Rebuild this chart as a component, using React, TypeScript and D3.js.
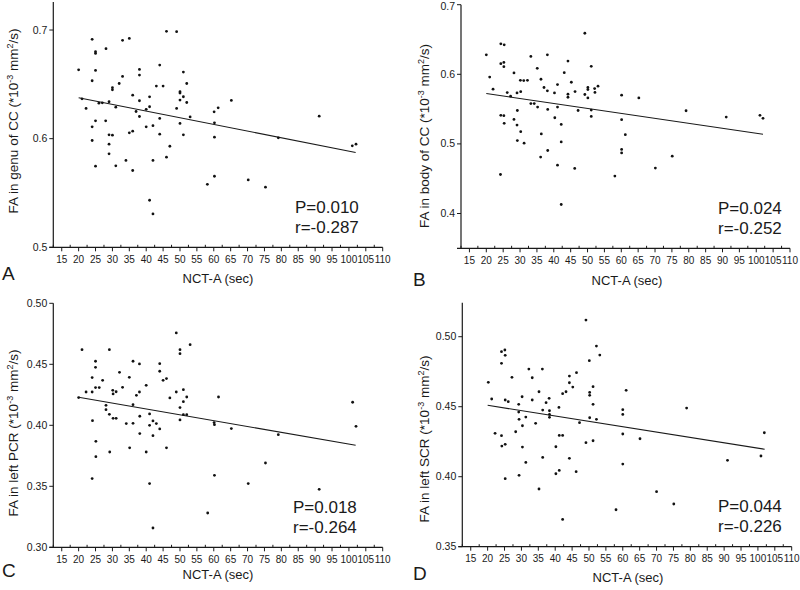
import React from "react";
import * as d3 from "d3";

// ---------- DATA ----------
const xTickValues = [15, 20, 25, 30, 35, 40, 45, 50, 55, 60, 65, 70, 75, 80, 85, 90, 95, 100, 105, 110];
const xDomain: [number, number] = [12.5, 110];
const xTitle = "NCT-A (sec)";

const pointsA: [number, number][] = [
  [20, 0.6634], [21, 0.6367], [22.2, 0.6278], [24, 0.6914], [24, 0.6533], [24, 0.6109], [24, 0.5983],
  [25, 0.680], [25, 0.6785], [25, 0.6628], [25, 0.6164], [25, 0.5747], [26, 0.6327], [27, 0.633],
  [28.1, 0.6828], [28, 0.6164], [29, 0.634], [29, 0.6035], [29, 0.5949], [29, 0.586], [30, 0.6469],
  [30, 0.645], [30, 0.6032], [31, 0.629], [31, 0.575], [32, 0.6508], [33, 0.6905], [33, 0.6573],
  [34, 0.580], [35, 0.6923], [35, 0.6054], [36, 0.640], [36, 0.6069], [36, 0.5707], [37, 0.625],
  [38, 0.6637], [38, 0.6585], [38, 0.6349], [38, 0.6204], [40, 0.6109], [40, 0.627], [41, 0.6385],
  [41, 0.6294], [41, 0.5433], [42, 0.612], [42, 0.580], [42, 0.5307], [43, 0.6484], [44, 0.6677],
  [44, 0.6186], [44, 0.6041], [45, 0.6484], [46, 0.6988], [46, 0.583], [47, 0.593], [49, 0.6985],
  [49, 0.6278], [50, 0.6432], [50, 0.642], [50, 0.6355], [50, 0.614], [51, 0.6613], [51, 0.6386],
  [51, 0.6035], [52, 0.6508], [52, 0.6333], [53, 0.620], [58.1, 0.558], [60.1, 0.6247], [61.3, 0.6284],
  [60.2, 0.6146], [60.2, 0.6014], [60.2, 0.5654], [65.2, 0.6352], [70.2, 0.562], [75.3, 0.5553],
  [79.1, 0.6008], [91.2, 0.6207], [101, 0.5934], [102.1, 0.5949],
];

const pointsB: [number, number][] = [
  [20, 0.628], [21, 0.596], [22, 0.5786], [24.3, 0.6438], [25.3, 0.6424], [24.3, 0.6152], [25.2, 0.617],
  [25.2, 0.611], [24.3, 0.541], [25.2, 0.5405], [25.3, 0.5295], [24.2, 0.456], [26.2, 0.5738],
  [27.2, 0.5686], [28.2, 0.602], [28.2, 0.5352], [29.1, 0.5733], [29.2, 0.548], [29.1, 0.527],
  [29.2, 0.5048], [30.1, 0.5914], [30.2, 0.575], [30.2, 0.5176], [31.1, 0.591], [31.2, 0.501],
  [32.2, 0.5914], [33.2, 0.6257], [33.2, 0.558], [34.2, 0.558], [35.2, 0.5529], [35.1, 0.6086],
  [36.2, 0.5929], [36.3, 0.5143], [36.1, 0.481], [37.1, 0.581], [38.1, 0.5762], [38.1, 0.628],
  [38.2, 0.5495], [38.2, 0.4905], [40.2, 0.5733], [40.3, 0.5376], [41.1, 0.5852], [41.1, 0.5529],
  [41.1, 0.4695], [42.2, 0.528], [42.2, 0.5029], [42.2, 0.4129], [43.1, 0.6024], [44.2, 0.619],
  [44.2, 0.5714], [44.2, 0.567], [45.2, 0.5886], [46.3, 0.5752], [46.2, 0.4648], [47.2, 0.548],
  [49.2, 0.659], [49.2, 0.571], [50.1, 0.581], [50.1, 0.578], [50.1, 0.566], [51.1, 0.6114],
  [51.1, 0.5486], [51.1, 0.5395], [52.1, 0.5795], [52.2, 0.574], [53.1, 0.583], [60.1, 0.570],
  [65.2, 0.566], [60.1, 0.5348], [61.2, 0.5133], [60.1, 0.492], [60.1, 0.4871], [58.1, 0.4538],
  [70.1, 0.4652], [75.1, 0.4824], [79.2, 0.5476], [91.1, 0.5386], [101.1, 0.541], [102, 0.5367],
];

const pointsC: [number, number][] = [
  [20, 0.4227], [21, 0.462], [22.2, 0.4273], [24, 0.4391], [24, 0.4273], [24.1, 0.4038], [24, 0.3563],
  [25, 0.4525], [25, 0.4475], [25, 0.4309], [25.1, 0.3869], [25.1, 0.3743], [26.1, 0.4309],
  [27.1, 0.4369], [28.1, 0.4164], [28.1, 0.4128], [29.1, 0.462], [29.1, 0.409], [29.2, 0.3781],
  [30.1, 0.4287], [30.2, 0.4257], [30.2, 0.4057], [31.1, 0.4275], [31.1, 0.4057], [32.1, 0.4434],
  [33, 0.4311], [34.1, 0.4014], [35, 0.4393], [35.1, 0.3815], [36.1, 0.4525], [36.1, 0.4169],
  [36.1, 0.4016], [37.1, 0.4246], [38, 0.4503], [38, 0.4273], [38.1, 0.4074], [38.1, 0.3932],
  [40, 0.4328], [40, 0.3781], [41, 0.4093], [41, 0.40], [41, 0.3522], [42, 0.4036], [42, 0.3915],
  [42, 0.3158], [43, 0.4014], [44, 0.4505], [44, 0.4443], [44, 0.397], [45, 0.4369], [46, 0.4383],
  [46, 0.3815], [47, 0.4224], [48.9, 0.4757], [48.9, 0.4273], [50, 0.462], [50, 0.4587], [50, 0.4145],
  [50, 0.4044], [51, 0.4292], [51, 0.4194], [51, 0.4087], [52, 0.4232], [52, 0.4087], [53, 0.4661],
  [61.4, 0.4232], [60.1, 0.4022], [60.2, 0.4005], [60.2, 0.359], [58.2, 0.3281], [65.2, 0.3973],
  [70.2, 0.3522], [75.3, 0.3691], [79.1, 0.3923], [91.2, 0.3475], [101.1, 0.4189], [102.1, 0.3992],
];

const pointsD: [number, number][] = [
  [20.2, 0.4674], [21.2, 0.4555], [22.2, 0.431], [24.1, 0.4893], [25.1, 0.4905], [25.2, 0.4867],
  [24.1, 0.481], [24.1, 0.4293], [24.2, 0.4219], [25.2, 0.4548], [25.2, 0.4231], [25.2, 0.3986],
  [26.1, 0.4536], [27.2, 0.471], [28.3, 0.4321], [29.2, 0.4517], [29.2, 0.4462], [29.3, 0.441],
  [29.3, 0.401], [30.2, 0.4571], [30.3, 0.4364], [30.3, 0.4212], [31.3, 0.4426], [31.3, 0.4102],
  [32.2, 0.4769], [33.2, 0.4707], [33.2, 0.4548], [34.2, 0.4381], [35.2, 0.4607], [35.2, 0.3912],
  [36.2, 0.4769], [36.3, 0.4476], [36.3, 0.4138], [37.3, 0.4529], [38.2, 0.456], [38.3, 0.4471],
  [38.3, 0.4445], [38.3, 0.4424], [40.2, 0.4214], [40.2, 0.4021], [41.1, 0.4495], [41.2, 0.4295],
  [41.2, 0.4045], [42.2, 0.4593], [42.2, 0.4295], [42.2, 0.3695], [43.2, 0.4607], [44.2, 0.4719],
  [44.2, 0.4671], [44.2, 0.4131], [45.2, 0.464], [46.3, 0.4743], [46.2, 0.4036], [47.2, 0.4386],
  [49.1, 0.5119], [49.1, 0.4243], [50.1, 0.4829], [50.2, 0.4602], [50.2, 0.4581], [50.2, 0.4421],
  [51.2, 0.4643], [51.2, 0.4517], [51.2, 0.4257], [52.2, 0.4933], [52.2, 0.441], [53.2, 0.4869],
  [61, 0.4617], [60, 0.4479], [60, 0.4445], [60, 0.4305], [60, 0.409], [65.1, 0.4271], [58, 0.3764],
  [70, 0.3893], [75.1, 0.3805], [78.9, 0.449], [91, 0.4117], [100.9, 0.4148], [101.9, 0.4314],
];

// regression line end points [x, y]
const fitA: [number, number][] = [[20, 0.6376], [102, 0.5873]];
const fitB: [number, number][] = [[20, 0.5724], [102, 0.5139]];
const fitC: [number, number][] = [[20, 0.4230], [102, 0.3836]];
const fitD: [number, number][] = [[20, 0.4510], [102, 0.4196]];

const yTicksA = [0.5, 0.6, 0.7];
const yTicksB = [0.4, 0.5, 0.6, 0.7];
const yTicksC = [0.30, 0.35, 0.40, 0.45, 0.50];
const yTicksD = [0.35, 0.40, 0.45, 0.50];

const regionA = "genu of CC";
const regionB = "body of CC";
const regionC = "left PCR";
const regionD = "left SCR";

const statsA = ["P=0.010", "r=-0.287"];
const statsB = ["P=0.024", "r=-0.252"];
const statsC = ["P=0.018", "r=-0.264"];
const statsD = ["P=0.044", "r=-0.226"];

// ---------- LAYOUT ----------
type Panel = {
  letter: string;
  points: [number, number][];
  fit: [number, number][];
  yTicks: number[];
  yFmt: string;
  yDomain: [number, number];
  region: string;
  stats: string[];
  x0: number; x1: number; yb: number; yt: number;
  letterPos: [number, number];
  yTitlePos: [number, number];
  xTitlePos: [number, number];
  statPos: [number, number];
};

const panels: Panel[] = [
  { letter: "A", points: pointsA, fit: fitA, yTicks: yTicksA, yFmt: ".1f", yDomain: [0.5, 0.7258], region: regionA, stats: statsA,
    x0: 53.3, x1: 382.7, yb: 247.3, yt: 2, letterPos: [2, 280], yTitlePos: [18, 121], xTitlePos: [218, 283], statPos: [295, 213] },
  { letter: "B", points: pointsB, fit: fitB, yTicks: yTicksB, yFmt: ".1f", yDomain: [0.35, 0.7], region: regionB, stats: statsB,
    x0: 461, x1: 790, yb: 248.3, yt: 4.7, letterPos: [413, 286], yTitlePos: [429, 136], xTitlePos: [627, 285], statPos: [718, 214] },
  { letter: "C", points: pointsC, fit: fitC, yTicks: yTicksC, yFmt: ".2f", yDomain: [0.3, 0.5], region: regionC, stats: statsC,
    x0: 53.3, x1: 382.7, yb: 547.3, yt: 303.3, letterPos: [2, 577], yTitlePos: [18, 433], xTitlePos: [218, 579], statPos: [293, 513] },
  { letter: "D", points: pointsD, fit: fitD, yTicks: yTicksD, yFmt: ".2f", yDomain: [0.35, 0.5243], region: regionD, stats: statsD,
    x0: 462.3, x1: 791.7, yb: 546.7, yt: 302.7, letterPos: [413, 580], yTitlePos: [429, 439], xTitlePos: [628, 582], statPos: [718, 512] },
];

const FONT = "'Liberation Sans', Arial, Helvetica, sans-serif";
const INK = "#1a1a1a";

function PanelView({ p }: { p: Panel }) {
  const x = d3.scaleLinear().domain(xDomain).range([p.x0, p.x1]);
  const y = d3.scaleLinear().domain(p.yDomain).range([p.yb, p.yt]);
  const minor = d3.range(xDomain[0], xDomain[1] + 0.001, 2.5).filter((v) => v % 5 !== 0);
  const fmt = d3.format(p.yFmt);
  const line = d3.line<[number, number]>().x((d) => x(d[0])).y((d) => y(d[1]));
  return (
    <g>
      {/* axes */}
      <line x1={p.x0} x2={p.x0} y1={p.yt} y2={p.yb} stroke={INK} strokeWidth={1.2} />
      <line x1={p.x0 - 4} x2={p.x1} y1={p.yb} y2={p.yb} stroke={INK} strokeWidth={1.2} />
      {p.yTicks.map((t) => (
        <g key={"yt" + t}>
          <line x1={p.x0 - 4} x2={p.x0} y1={y(t)} y2={y(t)} stroke={INK} strokeWidth={1} />
          <text x={p.x0 - 6} y={Math.max(y(t) + 3.5, 10)} textAnchor="end" fontSize={10.5} fill={INK}>{fmt(t)}</text>
        </g>
      ))}
      {xTickValues.map((t) => (
        <g key={"xt" + t}>
          <line x1={x(t)} x2={x(t)} y1={p.yb} y2={p.yb + 4} stroke={INK} strokeWidth={1} />
          <text x={x(t)} y={p.yb + 15.5} textAnchor="middle" fontSize={10} fill={INK}>{t}</text>
        </g>
      ))}
      {minor.map((t) => (
        <line key={"mt" + t} x1={x(t)} x2={x(t)} y1={p.yb} y2={p.yb - 2.5} stroke={INK} strokeWidth={1} />
      ))}
      {/* fit */}
      <path d={line(p.fit) || ""} stroke={INK} strokeWidth={1.1} fill="none" />
      {/* points */}
      {p.points.map((d, i) => (
        <circle key={i} cx={x(d[0])} cy={y(d[1])} r={1.4} fill="#111" />
      ))}
      {/* titles */}
      <text x={p.xTitlePos[0]} y={p.xTitlePos[1]} textAnchor="middle" fontSize={13} fill={INK}>{xTitle}</text>
      <text transform={`translate(${p.yTitlePos[0]},${p.yTitlePos[1]}) rotate(-90)`} textAnchor="middle" fontSize={13.5} fill={INK}>
        {"FA in " + p.region + " (*10"}
        <tspan fontSize={9} dy={-5}>-3</tspan>
        <tspan dy={5}>{" mm"}</tspan>
        <tspan fontSize={9} dy={-5}>2</tspan>
        <tspan dy={5}>{"/s)"}</tspan>
      </text>
      <text x={p.statPos[0]} y={p.statPos[1]} fontSize={17} fill={INK}>{p.stats[0]}</text>
      <text x={p.statPos[0]} y={p.statPos[1] + 20} fontSize={17} fill={INK}>{p.stats[1]}</text>
      <text x={p.letterPos[0]} y={p.letterPos[1]} fontSize={19} fill={INK}>{p.letter}</text>
    </g>
  );
}

export default function App() {
  return (
    <svg
      width={800}
      height={590}
      viewBox="0 0 800 590"
      style={{ position: "absolute", left: 0, top: 0, background: "#fff", fontFamily: FONT }}
    >
      <rect x={0} y={0} width={800} height={590} fill="#fff" />
      {panels.map((p) => (
        <PanelView key={p.letter} p={p} />
      ))}
    </svg>
  );
}
